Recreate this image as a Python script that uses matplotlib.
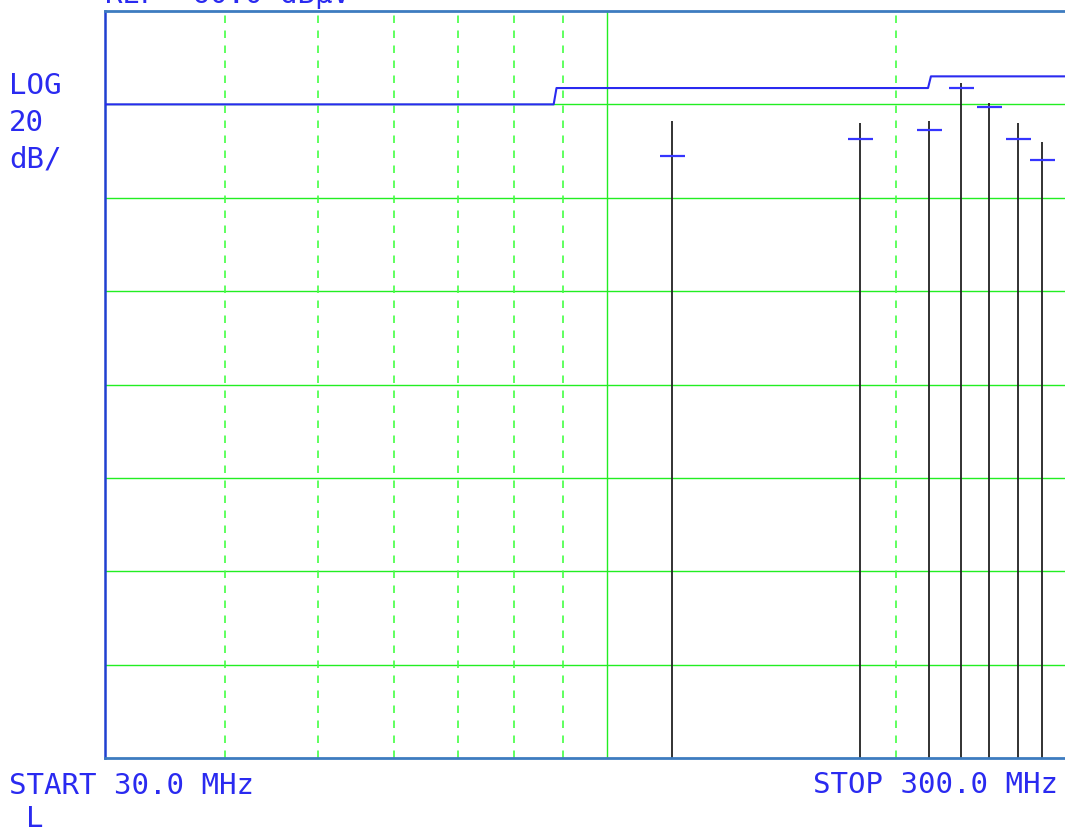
import matplotlib
matplotlib.use("Agg")
import matplotlib.pyplot as plt

# Spectrum analyser plot, 30-300 MHz, log frequency axis

ref_level = 60.0
db_per_div = 20
n_div = 8

# limit line (dBuV)
limit_freq = [30, 88, 88.6, 216, 217.5, 300]
limit_level = [40, 40, 43.5, 43.5, 46, 46]

# measured emissions
spike_freq = [117.0, 183.4, 216.5, 233.6, 250.2, 268.2, 283.7]
spike_peak = [36.4, 36.1, 36.4, 44.5, 40.4, 36.0, 32.0]
spike_qp = [29.0, 32.5, 34.5, 43.6, 39.5, 32.5, 28.1]

dashed_freq = [40, 50, 60, 70, 80, 90, 200]
solid_freq = [100]

blue = "#2a2af0"
green = "#22ee22"

fig = plt.figure(figsize=(10.65, 8.34), dpi=100)
ax = fig.add_axes([105 / 1065, 1 - 758 / 834, 1 - 105 / 1065, (758 - 11) / 834])

bottom = ref_level - db_per_div * n_div
ax.set_xscale("log")
ax.set_xlim(30, 300)
ax.set_ylim(bottom, ref_level)

# graticule
for i in range(1, n_div):
    ax.axhline(ref_level - i * db_per_div, color=green, lw=1.0, zorder=1)
for f in dashed_freq:
    ax.axvline(f, color="#44ff44", lw=1.2, ls=(0, (4.5, 4.5)), zorder=1)
for f in solid_freq:
    ax.axvline(f, color=green, lw=1.0, zorder=1)

ax.plot(limit_freq, limit_level, color=blue, lw=1.5, zorder=3)

ax.vlines(spike_freq, bottom, spike_peak, color="#222222", lw=1.3, zorder=2)
ax.plot(spike_freq, spike_qp, ls="none", marker="_", markersize=18,
        markeredgewidth=1.6, color="#3535ff", zorder=4)

ax.set_xticks([])
ax.set_yticks([])
ax.minorticks_off()
for side in ["top", "bottom"]:
    ax.spines[side].set_color("#3d7cc0")
    ax.spines[side].set_linewidth(2)
ax.spines["left"].set_color("#2040d0")
ax.spines["left"].set_linewidth(1.8)
ax.spines["right"].set_visible(False)

font = dict(family="DejaVu Sans Mono", fontsize=21, color=blue)


def px(x, y):
    return x / 1065, 1 - y / 834


fig.text(*px(105, 3), "REF  60.0 dBµV", va="baseline", **font)
fig.text(*px(9, 94), "LOG", va="baseline", **font)
fig.text(*px(9, 131), "20", va="baseline", **font)
fig.text(*px(9, 168), "dB/", va="baseline", **font)
fig.text(*px(9, 794), "START 30.0 MHz", va="baseline", **font)
fig.text(*px(26, 833), "L", va="bottom", **font)
fig.text(*px(813, 793), "STOP 300.0 MHz", va="baseline", **font)

fig.savefig("out.png", dpi=100)
